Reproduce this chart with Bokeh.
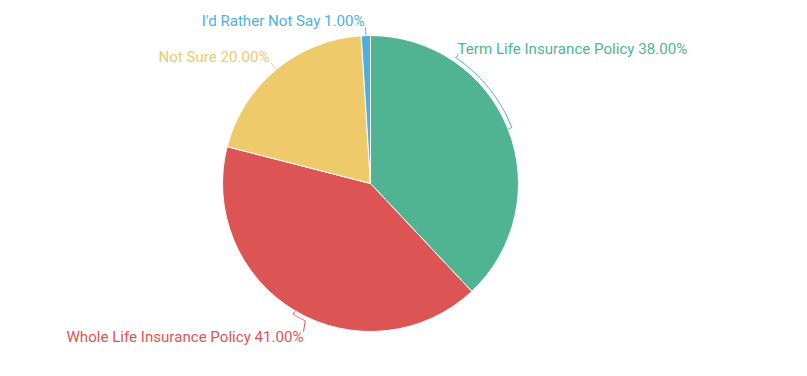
import numpy as np
from bokeh.plotting import figure
from bokeh.models import Range1d
from bokeh.embed import file_html
from bokeh.resources import INLINE
from bokeh.core.properties import value

# data
categories = ["Term Life Insurance Policy", "Whole Life Insurance Policy", "Not Sure", "I'd Rather Not Say"]
shares = [38.0, 41.0, 20.0, 1.0]
colors = ["#50b493", "#dd5454", "#eeca6a", "#4eafdf"]

# layout (page pixel coordinates of the reference)
W, H = 791, 360
CX_PAGE, CY_PAGE, R = 370, 183, 148
label_pos = [(457, 48, "left"), (303, 336, "right"), (269, 56.5, "right"), (364, 20.5, "right")]
leader_end = [(458, 54), (303, 331), (270, 62), (365, 27)]
elbow_deg = [56.0, -115.4, None, None]

def px(x):
    return x

def py(y):
    return H - y

cx, cy = px(CX_PAGE), py(CY_PAGE)

p = figure(width=W, height=H, output_backend="svg", toolbar_location=None,
           x_range=Range1d(0, W), y_range=Range1d(0, H), min_border=0)
p.axis.visible = False
p.grid.visible = False
p.outline_line_color = None
p.background_fill_color = "white"

total = sum(shares)
cum = np.concatenate([[0], np.cumsum(shares)])
start_deg = 90 - 360 * cum[:-1] / total
end_deg = 90 - 360 * cum[1:] / total
mid_deg = (start_deg + end_deg) / 2

p.wedge(x=cx, y=cy, radius=R, start_angle=np.radians(end_deg), end_angle=np.radians(start_deg),
        fill_color=colors, line_color="white", line_width=1)

for i, cat in enumerate(categories):
    m = mid_deg[i]
    xs, ys = [], []
    r_out = R + 4
    a = np.radians(m)
    xs += [cx + (R + 0.5) * np.cos(a), cx + r_out * np.cos(a)]
    ys += [cy + (R + 0.5) * np.sin(a), cy + r_out * np.sin(a)]
    if elbow_deg[i] is not None:
        angs = np.radians(np.linspace(m, elbow_deg[i], 40))
        xs += list(cx + r_out * np.cos(angs))
        ys += list(cy + r_out * np.sin(angs))
    ex, ey = leader_end[i]
    xs.append(px(ex))
    ys.append(py(ey))
    p.line(xs, ys, line_color=colors[i], line_width=1)
    lx, ly, al = label_pos[i]
    p.text(x=[px(lx)], y=[py(ly)], text=[f"{cat} {shares[i]:.2f}%"], text_color=colors[i],
           text_font=value("Roboto"), text_font_size="15.1px", text_align=al,
           text_baseline="alphabetic")

open("out.html", "w").write(file_html(p, INLINE))
